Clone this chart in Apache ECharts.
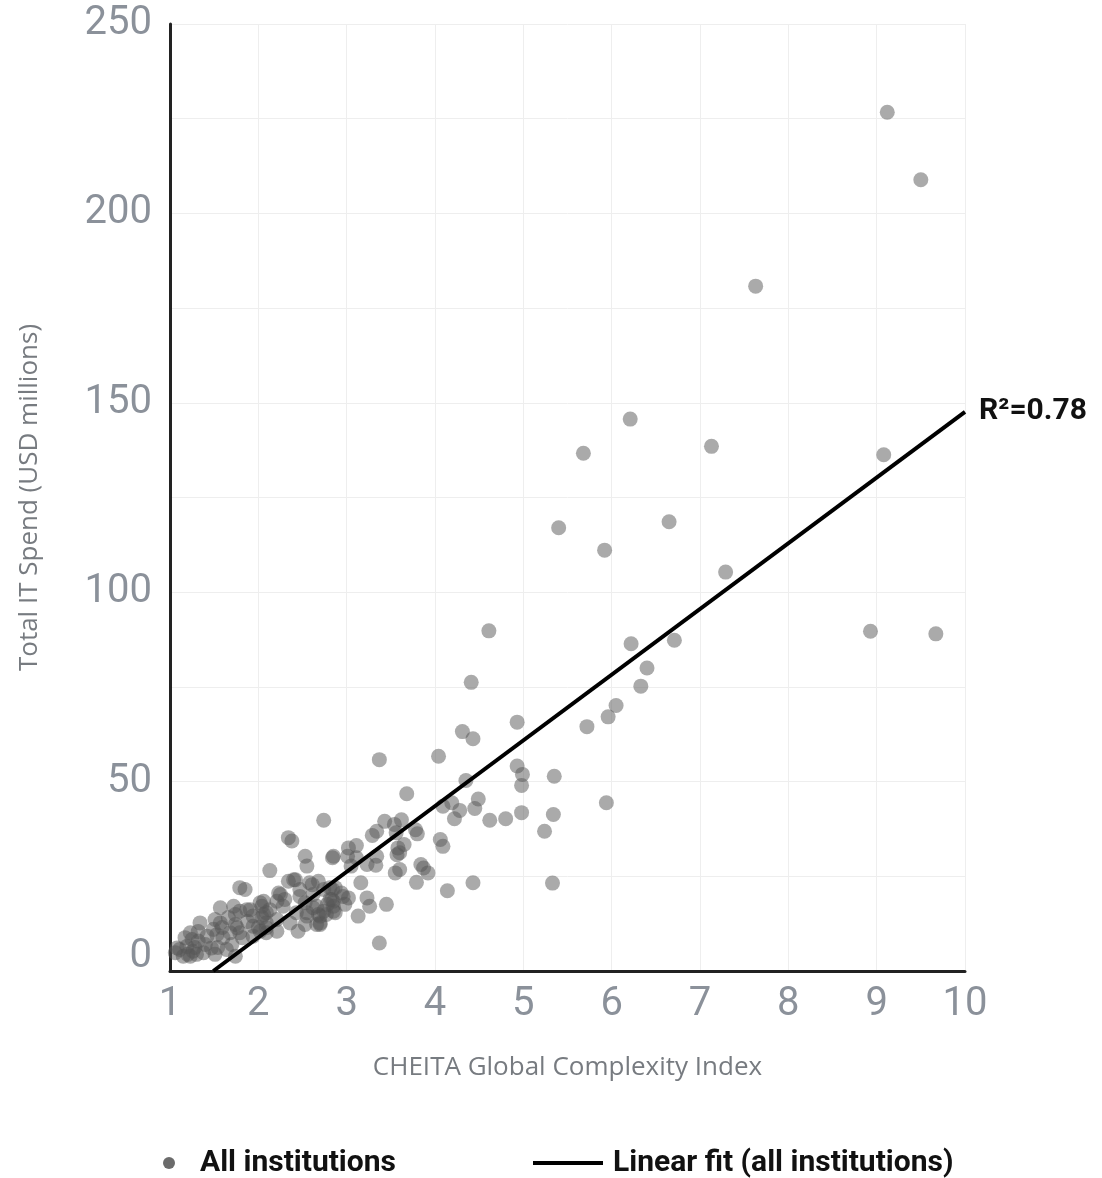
<!DOCTYPE html>
<html>
<head>
<meta charset="utf-8">
<script src="https://cdn.jsdelivr.net/npm/echarts@6/dist/echarts.min.js"></script>
<style>
html,body{margin:0;padding:0;background:#fff;}
#chart{width:1102px;height:1178px;}
</style>
</head>
<body>
<div id="chart"></div>
<script>
// CHEITA Global Complexity Index (x) for each institution
const complexity = [
  9.12,9.50,7.63,6.21,5.68,7.13,9.08,5.40,5.92,6.65,7.29,8.93,9.67,4.61,6.22,6.71,6.40,6.33,4.41,6.05,
  5.96,5.72,4.93,4.31,4.43,4.04,3.37,4.93,4.99,5.35,4.98,4.35,3.68,4.49,4.19,4.09,4.28,4.45,4.22,4.62,
  4.80,4.98,5.34,5.24,5.94,3.62,3.78,3.80,4.06,4.09,3.65,3.60,3.84,3.87,3.92,3.60,3.79,4.14,4.43,5.33,
  3.43,3.54,3.34,3.29,3.56,3.58,3.11,3.02,3.34,3.57,2.85,3.01,3.05,3.33,3.55,3.16,3.23,3.26,3.45,3.02,
  2.98,2.85,2.87,3.13,3.37,2.74,2.34,2.38,2.13,2.53,2.55,2.84,3.11,3.23,1.79,1.85,2.42,2.34,2.58,2.68,
  2.81,2.84,2.25,2.30,2.21,2.06,2.04,2.06,1.91,2.13,2.47,2.62,2.53,2.66,2.68,2.55,2.77,2.85,2.45,2.70,
  2.53,1.72,1.79,1.74,1.76,1.79,2.02,2.09,2.21,1.94,1.57,1.34,1.11,1.19,1.26,1.15,1.23,1.30,1.38,1.23,
  1.25,1.32,1.42,1.49,1.57,1.53,1.60,1.68,1.08,1.06,1.47,1.64,1.74,1.87,1.94,2.23,2.28,2.09,2.21,2.36,
  2.43,2.55,2.74,2.83,2.94,2.74,2.87,2.70,1.51,2.02,2.09,1.94,2.09,2.62,2.70,2.66,2.81,2.85,2.40,2.47,
  1.51,1.66,1.17,1.32,1.59,1.74,1.88,1.82,1.70,1.54,1.40,1.28,1.20,2.04,2.00,2.61,2.96,2.78
];
// Total IT Spend (USD millions), same order
const spend = [
  226.7,208.9,180.8,145.7,136.7,138.5,136.3,117.0,111.1,118.6,105.3,89.7,89.0,89.8,86.4,87.3,80.0,75.2,76.2,70.1,
  67.1,64.5,65.7,63.2,61.3,56.7,55.8,54.1,51.9,51.4,49.0,50.3,46.8,45.4,44.4,43.5,42.4,42.9,40.2,39.8,
  40.2,41.8,41.3,36.9,44.4,39.9,37.3,36.2,34.7,32.9,33.4,31.2,28.1,27.2,25.9,26.8,23.4,21.2,23.3,23.2,
  39.5,38.7,36.9,35.8,36.5,32.5,33.1,32.5,30.3,30.7,30.3,30.3,27.7,27.9,25.9,23.3,19.3,17.1,17.6,19.3,
  17.6,18.4,22.0,14.5,7.4,39.8,35.2,34.3,26.5,30.3,27.7,29.9,29.9,28.1,22.0,21.5,24.1,23.7,23.3,23.7,
  22.0,21.5,20.2,18.9,18.4,18.4,17.1,14.9,16.2,16.2,19.7,20.2,18.0,17.1,14.9,15.4,14.9,17.1,10.5,12.3,
  12.3,17.1,15.8,14.9,11.4,10.1,10.5,11.4,10.5,9.2,16.7,12.7,5.7,6.5,5.2,3.9,3.9,4.4,4.8,10.1,
  8.3,7.9,9.2,11.0,12.7,9.6,8.8,10.1,6.1,4.8,6.1,5.7,3.9,16.2,14.5,20.6,17.1,12.7,13.6,12.7,
  15.4,14.5,21.5,18.9,20.6,15.8,15.4,12.7,4.4,18.0,15.4,11.8,10.1,16.7,14.5,12.3,18.9,15.8,24.1,21.5,
  13.6,14.1,8.8,10.4,11.5,12.3,13.1,8.8,7.0,6.2,7.0,6.2,4.4,14.1,11.5,22.8,19.7,17.6
];
// Linear fit end points (x, y) and its R²
const fitX = [1.49, 10];
const fitY = [0, 147.6];
const fitLabel = 'R\u00B2=0.78';
const xTicks = [1,2,3,4,5,6,7,8,9,10];

const scatterData = complexity.map((x, i) => [x, spend[i]]);
const lineData = fitX.map((x, i) => [x, fitY[i]]);

const tickColor = '#8b919a';
const chart = echarts.init(document.getElementById('chart'), null, {renderer: 'canvas'});
chart.setOption({
  backgroundColor: '#ffffff',
  animation: false,
  grid: {left: 170, right: 137, top: 24, bottom: 207, containLabel: false, outerBoundsMode: 'none'},
  legend: [
    {
      left: 158, top: 1143, itemWidth: 28, itemHeight: 12, icon: 'circle',
      data: [{name: 'All institutions', itemStyle: {color: '#6b6b6b', opacity: 1}}],
      textStyle: {fontFamily: 'Roboto', fontWeight: 'bold', fontSize: 30, color: '#111', padding: [0,0,0,12]}
    },
    {
      left: 528, top: 1143, itemWidth: 70, itemHeight: 4, icon: 'rect',
      data: [{name: 'Linear fit (all institutions)', itemStyle: {color: '#000'}}],
      textStyle: {fontFamily: 'Roboto', fontWeight: 'bold', fontSize: 30, color: '#111', padding: [0,0,0,5]}
    }
  ],
  xAxis: {
    type: 'value', min: 1, max: 10, interval: 1,
    name: 'CHEITA Global Complexity Index', nameLocation: 'middle', nameGap: 84,
    nameTextStyle: {fontFamily: 'Open Sans', fontSize: 26, color: '#777b80'},
    axisLine: {show: true, onZero: false, lineStyle: {color: '#222', width: 3}},
    axisTick: {show: false},
    axisLabel: {
      color: tickColor, fontFamily: 'Roboto', fontWeight: 'normal', fontSize: 40, margin: 14,
      formatter: v => xTicks.indexOf(v) >= 0 ? String(v) : ''
    },
    splitLine: {show: true, lineStyle: {color: '#eeeeee', width: 1}}
  },
  yAxis: {
    type: 'value', min: 0, max: 250, interval: 25,
    name: 'Total IT Spend (USD millions)', nameLocation: 'middle', nameGap: 127,
    nameTextStyle: {fontFamily: 'Open Sans', fontSize: 26, color: '#777b80'},
    axisLine: {show: true, onZero: false, lineStyle: {color: '#222', width: 3}},
    axisTick: {show: false},
    axisLabel: {
      color: tickColor, fontFamily: 'Roboto', fontWeight: 'normal', fontSize: 40, margin: 18,
      formatter: v => v === 0 ? '{z|0}' : (v % 50 === 0 ? String(v) : ''),
      rich: {z: {color: tickColor, fontFamily: 'Roboto', fontWeight: 'normal', fontSize: 40, padding: [0,0,28,0]}}
    },
    splitLine: {show: true, lineStyle: {color: '#eeeeee', width: 1}}
  },
  series: [
    {
      name: 'All institutions', type: 'scatter', data: scatterData,
      symbol: 'circle', symbolSize: 15,
      itemStyle: {color: '#555555', opacity: 0.5},
      z: 2
    },
    {
      name: 'Linear fit (all institutions)', type: 'line', data: lineData,
      symbol: 'none', showSymbol: false,
      lineStyle: {color: '#000', width: 4},
      itemStyle: {color: '#000'},
      endLabel: {
        show: true, formatter: fitLabel, distance: 14,
        fontFamily: 'Roboto', fontWeight: 'bold', fontSize: 30, color: '#111'
      },
      z: 3
    }
  ]
});
</script>
</body>
</html>
